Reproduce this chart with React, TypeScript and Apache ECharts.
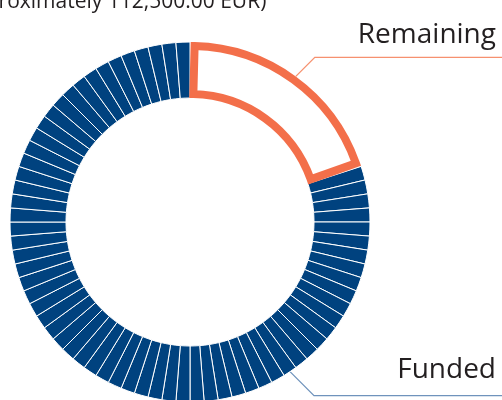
import React, { useEffect, useRef } from "react";
import * as echarts from "echarts";

const titleText = "(approximately 112,500.00 EUR)";
const remainingName = "Remaining";
const fundedName = "Funded";
const remainingUnits = 16;
const fundedUnits = [
  1, 1, 1, 1, 1, 1, 1, 1, 1, 1, 1, 1, 1, 1, 1, 1,
  1, 1, 1, 1, 1, 1, 1, 1, 1, 1, 1, 1, 1, 1, 1, 1,
  1, 1, 1, 1, 1, 1, 1, 1, 1, 1, 1, 1, 1, 1, 1, 1,
  1, 1, 1, 1, 1, 1, 1, 1, 1, 1, 1, 1, 1, 1, 1, 1,
];
const fundedLabelSegment = 16;

const BLUE = "#00427F";
const ORANGE = "#F36F4A";
const ORANGE_LINE = "#F6916F";
const BLUE_LINE = "#6F93BC";
const TEXT = "#231F20";
const FONT = "'Open Sans', sans-serif";

export default function App() {
  const ref = useRef<HTMLDivElement>(null);

  useEffect(() => {
    if (!ref.current) return;
    const chart = echarts.init(ref.current, null, { renderer: "svg" });
    const width = 502;
    const fundedSum = fundedUnits.reduce((a, b) => a + b, 0);
    const total = remainingUnits + fundedSum;
    const insetDeg = 1.5;
    const insetUnits = (insetDeg / 360) * total;

    const labelStyle = {
      fontSize: 28,
      fontFamily: FONT,
      color: TEXT,
    };

    const data: any[] = [
      {
        name: remainingName,
        value: remainingUnits,
        itemStyle: { color: "#ffffff", borderWidth: 0 },
        label: { show: true, formatter: remainingName, ...labelStyle },
        labelLine: { show: true, lineStyle: { color: ORANGE_LINE, width: 1.3, opacity: 1 } },
      },
      ...fundedUnits.map((v, i) => ({
        name: fundedName,
        value: v,
        label: { show: i === fundedLabelSegment, formatter: fundedName, ...labelStyle },
        labelLine: {
          show: i === fundedLabelSegment,
          lineStyle: { color: BLUE_LINE, width: 1.3, opacity: 1 },
        },
      })),
    ];

    const option: any = {
      animation: false,
      graphic: [
        {
          type: "text",
          x: -45,
          y: 0,
          style: {
            text: titleText,
            font: `21px ${FONT}`,
            fill: TEXT,
            verticalAlign: "middle",
            align: "left",
          },
        },
      ],
      series: [
        {
          type: "pie",
          center: [190, 222],
          radius: [124, 180],
          startAngle: 90,
          clockwise: true,
          avoidLabelOverlap: false,
          silent: true,
          itemStyle: { color: BLUE, borderColor: "#ffffff", borderWidth: 1 },
          label: { show: false, position: "outside" },
          labelLine: { show: false, length: 20, length2: 100 },
          emphasis: { disabled: true },
          labelLayout: (params: any) => {
            const pts = params.labelLinePoints;
            if (!pts) return {};
            const p0 = pts[0];
            const isRemaining = params.dataIndex === 0;
            const d = isRemaining ? 19 : 24;
            const p1 = [p0[0] + d, p0[1] + (isRemaining ? -d : d)];
            const p2 = [width, p1[1]];
            return {
              x: 496,
              y: p1[1] - (isRemaining ? 25 : 29),
              align: "right",
              verticalAlign: "middle",
              labelLinePoints: [p0, p1, p2],
            };
          },
          data,
        },
        {
          type: "pie",
          center: [190, 222],
          radius: [128, 176],
          startAngle: 90 - insetDeg,
          clockwise: true,
          silent: true,
          z: 3,
          label: { show: false },
          labelLine: { show: false },
          emphasis: { disabled: true },
          data: [
            {
              name: remainingName,
              value: remainingUnits - 2 * insetUnits,
              itemStyle: {
                color: "rgba(255,255,255,0)",
                borderColor: ORANGE,
                borderWidth: 8,
                borderJoin: "miter",
              },
            },
            {
              name: fundedName,
              value: fundedSum + 2 * insetUnits,
              itemStyle: { color: "rgba(255,255,255,0)", borderWidth: 0 },
            },
          ],
        },
      ],
    };

    chart.setOption(option);
    return () => chart.dispose();
  }, []);

  return (
    <div
      ref={ref}
      style={{ position: "fixed", left: 0, top: 0, width: 502, height: 400 }}
    />
  );
}
